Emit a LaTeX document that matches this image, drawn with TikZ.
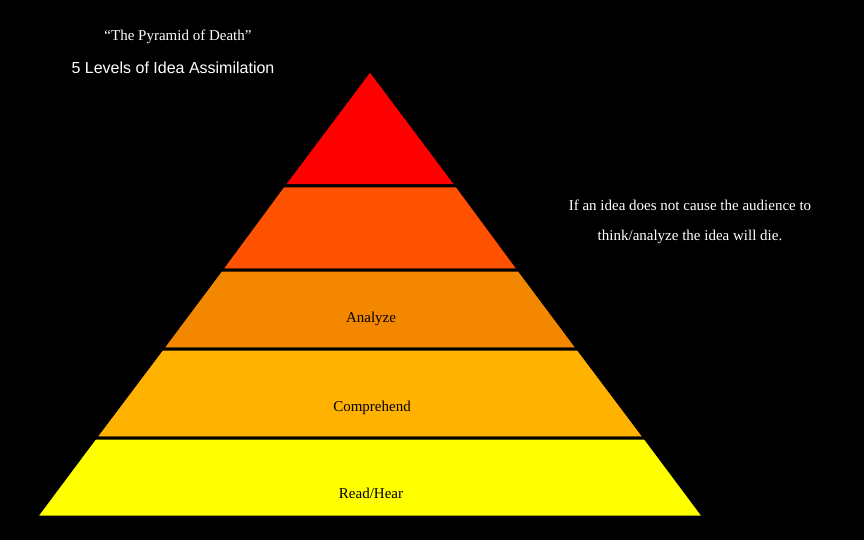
\documentclass[tikz,border=0pt]{standalone}
\usepackage{fontspec}
\setmainfont{Liberation Serif}
\newfontfamily\sansf{Liberation Sans}
\begin{document}
\begin{tikzpicture}[x=1pt,y=-1pt,
  band/.style={draw=black,line width=3pt,line join=miter},
  lbl/.style={font=\fontsize{15}{18}\selectfont,text=black}]
\fill[black] (0,0) rectangle (864,540);
\useasboundingbox (0,0) rectangle (864,540);
\fill[band,fill={rgb,255:red,255;green,0;blue,0}] (370,70) -- (457,186) -- (283,186) -- cycle;
\fill[band,fill={rgb,255:red,255;green,82;blue,0}] (283,186) -- (457,186) -- (519,270) -- (221,270) -- cycle;
\fill[band,fill={rgb,255:red,243;green,135;blue,0}] (221,270) -- (519,270) -- (578,349) -- (162,349) -- cycle;
\fill[band,fill={rgb,255:red,255;green,178;blue,0}] (162,349) -- (578,349) -- (645,438) -- (95,438) -- cycle;
\fill[band,fill={rgb,255:red,255;green,255;blue,0}] (95,438) -- (645,438) -- (704,517) -- (36,517) -- cycle;
\node[lbl] (an) at (371,319) {Analyze};
\node[lbl] (co) at (372,408) {Comprehend};
\node[lbl] (rh) at (371,493) {Read/Hear};
\node[text=white,font=\fontsize{15}{18}\selectfont] (t) at (178,37) {“The Pyramid of Death”};
\node[text=white,font=\sansf\fontsize{16}{19}\selectfont] (s) at (173,68) {5 Levels of Idea Assimilation};
\node[text=white,align=center,font=\fontsize{15}{30}\selectfont] (n) at (690,222) {If an idea does not cause the audience to\\think/analyze the idea will die.};
\end{tikzpicture}
\end{document}
